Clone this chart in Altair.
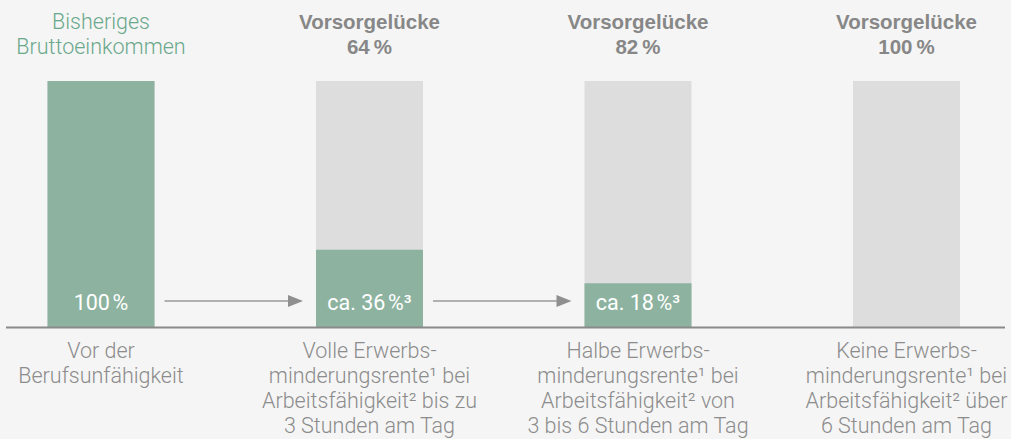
import altair as alt
import pandas as pd

# ---- data ----
categories = [0, 1, 2, 3]
bar_bottom_labels = [
    "Vor der\nBerufsunfähigkeit",
    "Volle Erwerbs-\nminderungsrente¹ bei\nArbeitsfähigkeit² bis zu\n3 Stunden am Tag",
    "Halbe Erwerbs-\nminderungsrente¹ bei\nArbeitsfähigkeit² von\n3 bis 6 Stunden am Tag",
    "Keine Erwerbs-\nminderungsrente¹ bei\nArbeitsfähigkeit² über\n6 Stunden am Tag",
]
header_labels = [
    "Bisheriges\nBruttoeinkommen",
    "Vorsorgelücke\n64\u202f%",
    "Vorsorgelücke\n82\u202f%",
    "Vorsorgelücke\n100\u202f%",
]
header_kind = ["income", "gap", "gap", "gap"]
total_values = [100, 100, 100, 100]
covered_values = [100, 31.5, 18, 0]
bar_value_labels = ["100\u202f%", "ca. 36\u202f%³", "ca. 18\u202f%³", ""]
arrow_from = [0, 1]

# ---- layout helpers ----
W, H = 1011, 439
x0, step = 101.0, 268.5
half = 53.5 / step
px_per_unit = 2.465
zero_px = 327.5
xdom = [-x0 / step, (W - x0) / step]
ydom = [(zero_px - H) / px_per_unit, zero_px / px_per_unit]

GREEN = "#8db3a0"
GREY_BAR = "#dcdddc"
TEXT_GREY = "#8c8c8c"
FONT = "Roboto"

xs = alt.Scale(domain=xdom, nice=False, zero=False)
ys = alt.Scale(domain=ydom, nice=False, zero=False)

bars = pd.DataFrame({
    "cat": categories,
    "total": total_values,
    "covered": covered_values,
    "vlabel": bar_value_labels,
    "bottom": bar_bottom_labels,
    "header": header_labels,
    "kind": header_kind,
})
bars["x1"] = bars["cat"] - half
bars["x2"] = bars["cat"] + half

base = alt.Chart(bars)

grey = base.mark_bar(color=GREY_BAR).encode(
    x=alt.X("x1:Q", scale=xs, axis=None),
    x2="x2:Q",
    y=alt.Y("total:Q", scale=ys, axis=None),
    y2=alt.datum(0),
)
green = base.transform_filter("datum.covered > 0").mark_bar(color=GREEN).encode(
    x=alt.X("x1:Q", scale=xs, axis=None),
    x2="x2:Q",
    y=alt.Y("covered:Q", scale=ys, axis=None),
    y2=alt.datum(0),
)
vlab = base.mark_text(color="white", font=FONT, fontWeight=400, fontSize=21.5,
                      align="center", baseline="alphabetic").encode(
    x=alt.X("cat:Q", scale=xs, axis=None),
    y=alt.value(310),
    text="vlabel:N",
)
bottom = base.mark_text(color=TEXT_GREY, font=FONT, fontWeight=300, fontSize=21.5,
                        align="center", baseline="alphabetic", lineBreak="\n",
                        lineHeight=25).encode(
    x=alt.X("cat:Q", scale=xs, axis=None),
    y=alt.value(358),
    text="bottom:N",
)
head_income = base.transform_filter("datum.kind == 'income'").mark_text(
    color="#6aa88b", font=FONT, fontWeight=300, fontSize=21.5, align="center",
    baseline="alphabetic", lineBreak="\n", lineHeight=25).encode(
    x=alt.X("cat:Q", scale=xs, axis=None),
    y=alt.value(29),
    text="header:N",
)
head_gap = base.transform_filter("datum.kind == 'gap'").mark_text(
    color="#878787", font="Liberation Sans", fontWeight=700, fontSize=20.5, align="center",
    baseline="alphabetic", lineBreak="\n", lineHeight=25).encode(
    x=alt.X("cat:Q", scale=xs, axis=None),
    y=alt.value(29),
    text="header:N",
)

axis_line = alt.Chart(pd.DataFrame({"y": [0]})).mark_rule(color="#8a8a8a", strokeWidth=2).encode(
    x=alt.value(6), x2=alt.value(1005),
    y=alt.Y("y:Q", scale=ys, axis=None),
)

arr = pd.DataFrame({"src": arrow_from})
arr["xs"] = arr["src"] + half + 10 / step
arr["xe"] = arr["src"] + 1 - half - 25 / step
arr["xt"] = arr["src"] + 1 - half - 20.5 / step
arrow_line = alt.Chart(arr).mark_rule(color="#999999", strokeWidth=1.6).encode(
    x=alt.X("xs:Q", scale=xs, axis=None),
    x2="xe:Q",
    y=alt.value(301),
)
arrow_head = alt.Chart(arr).mark_point(
    shape="M -1 -0.8 L 1 0 L -1 0.8 Z", size=225, filled=True, color="#8f8f8f", opacity=1
).encode(
    x=alt.X("xt:Q", scale=xs, axis=None),
    y=alt.value(301),
)

chart = alt.layer(
    grey, green, axis_line, arrow_line, arrow_head, vlab, bottom, head_income, head_gap
).properties(
    width=W, height=H, background="#f5f5f5", padding=0,
    autosize=alt.AutoSizeParams(type="none"),
).configure_view(stroke=None)

chart.save("out.html", embed_options={"renderer": "svg", "actions": False})
